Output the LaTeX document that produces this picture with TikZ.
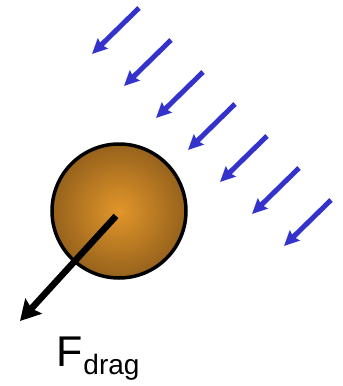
\documentclass[tikz,border=0pt]{standalone}
\usepackage{fontspec}
\setmainfont{Liberation Sans}
\usetikzlibrary{arrows.meta, positioning}
\definecolor{flowblue}{RGB}{51,51,204}
\definecolor{ballcore}{RGB}{226,150,42}
\definecolor{ballrim}{RGB}{150,98,28}
\tikzset{
  ball/.style={circle, draw=black, line width=3.5pt, minimum size=134pt, inner sep=0pt,
    inner color=ballcore, outer color=ballrim},
  flow/.style={-{Stealth[length=15pt, width=14pt, inset=2pt]}, line width=5pt, color=flowblue},
  force/.style={-{Stealth[length=20pt, width=22pt, inset=3pt]}, line width=6.5pt, color=black}
}

\begin{document}
\begin{tikzpicture}[x=1pt, y=-1pt]
\useasboundingbox (0,0) rectangle (343,386);

% particle
\node[ball] (particle) at (119,211) {};

% incoming flow
\foreach \i in {0,...,6} {
  \coordinate (tail\i) at ({139+32*\i},{8+32*\i});
  \coordinate (tip\i) at ({92+32*\i},{54+32*\i});
  \draw[flow] (tail\i) -- (tip\i);
}

% drag force
\coordinate (dragtip) at (20,321);
\draw[force] ([shift={(-3,5)}]particle.center) -- (dragtip);

\node[anchor=base west, inner sep=0pt, font=\fontsize{43}{43}\selectfont] (fdrag) at (56,366)
  {F\hspace{1pt}\raisebox{-8pt}{\fontsize{28}{28}\selectfont drag}};
\end{tikzpicture}
\end{document}
